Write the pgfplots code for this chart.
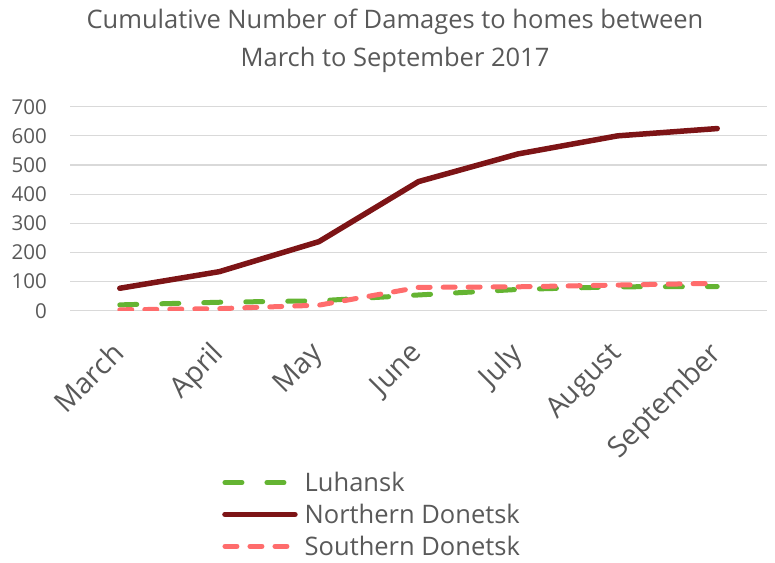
\documentclass[border=0pt]{standalone}
\usepackage{pgfplots}
\pgfplotsset{compat=1.18}
\usepackage{fontspec}
\setmainfont{Open Sans}
\definecolor{txtgray}{RGB}{89,89,89}
\definecolor{gridgray}{RGB}{217,217,217}
\definecolor{luh}{RGB}{100,180,50}
\definecolor{ndon}{RGB}{125,20,22}
\definecolor{sdon}{RGB}{255,108,108}
\begin{document}
\begin{tikzpicture}
\path[use as bounding box] (0,0) rectangle (775bp,563bp);
\node[align=center, text=txtgray, font=\fontsize{25.5bp}{38bp}\selectfont] at (395bp,522bp) {Cumulative Number of Damages to homes between\\March to September 2017};
\begin{axis}[
  at={(70bp,252.3bp)}, anchor=south west,
  scale only axis, width=697bp, height=204bp,
  xmin=-0.5, xmax=6.5, ymin=0, ymax=700,
  xtick={0,1,2,3,4,5,6},
  xticklabels={March,April,May,June,July,August,September},
  ytick={0,100,...,700},
  ymajorgrids, major grid style={gridgray, line width=1.2bp},
  axis line style={draw=none},
  major tick length=0pt,
  /pgf/number format/assume math mode=true,
  tick label style={text=txtgray},
  yticklabel style={anchor=east, inner sep=0pt, xshift=-23bp, font=\fontsize{20.5bp}{24bp}\selectfont},
  xticklabel style={rotate=45, anchor=north east, inner sep=1bp, xshift=-26.5bp, yshift=-12.9bp, font=\fontsize{28.5bp}{33bp}\selectfont},
  legend style={at={(0.2138,-0.771)}, anchor=north west, draw=none, fill=none,
    font=\fontsize{25.5bp}{30bp}\selectfont, text=txtgray, row sep=7bp, column sep=5bp},
  legend cell align=left,
  legend image code/.code={\draw[#1] (0bp,0bp) -- (70bp,0bp);},
]
\addplot[luh, line width=5bp, line cap=round, dash pattern=on 17bp off 25bp] coordinates {
 (0,20) (1,29) (2,34) (3,54) (4,73) (5,82) (6,83)};
\addlegendentry{Luhansk}
\addplot[ndon, line width=5.5bp, line cap=round, line join=round] coordinates {
 (0,77) (1,134) (2,237) (3,443) (4,538) (5,600) (6,625)};
\addlegendentry{Northern Donetsk}
\addplot[sdon, line width=5bp, line cap=round, dash pattern=on 12bp off 13bp] coordinates {
 (0,3) (1,7) (2,19) (3,80) (4,82) (5,88) (6,94)};
\addlegendentry{Southern Donetsk}
\end{axis}
\end{tikzpicture}
\end{document}
